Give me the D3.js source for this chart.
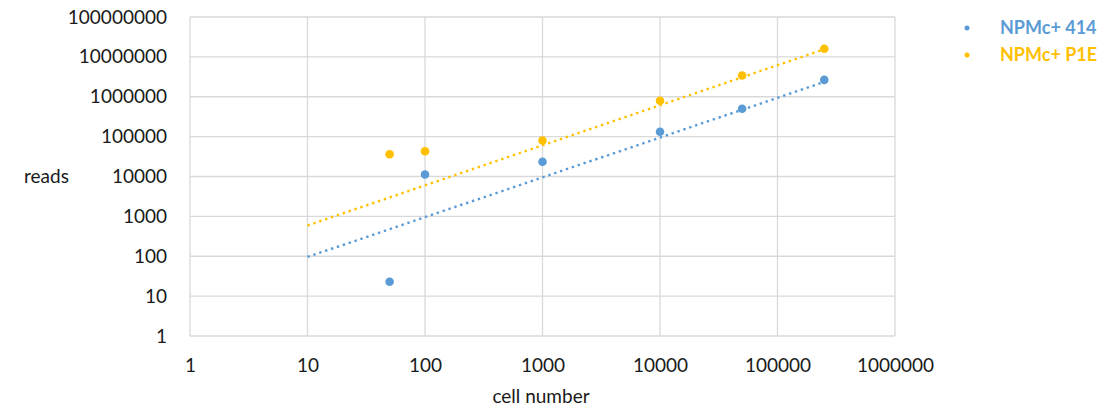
<!DOCTYPE html>
<html><head><meta charset="utf-8">
<script src="https://cdn.jsdelivr.net/npm/d3@7"></script>
<style>body{margin:0;background:#fff}svg{display:block}text{font-family:Lato,"Open Sans",sans-serif}</style>
</head><body>
<svg id="c" width="1115" height="407"></svg>
<script>
const cellNumbers = [50, 100, 1000, 10000, 50000, 250000];
const reads414 = [23, 11200, 23500, 132000, 500000, 2650000];
const readsP1E = [36000, 43000, 80000, 790000, 3400000, 16000000];
const seriesNames = ["NPMc+ 414", "NPMc+ P1E"];
const seriesColors = ["#5B9BD5", "#FFC000"];
// trendline endpoints
const trendX = [10, 250000];
const trend414 = [96, 2350000];
const trendP1E = [590, 15500000];
const xTicks = [1, 10, 100, 1000, 10000, 100000, 1000000];
const yTicks = [1, 10, 100, 1000, 10000, 100000, 1000000, 10000000, 100000000];

const svg = d3.select("#c");
const x = d3.scaleLog().domain([1, 1000000]).range([190, 895]);
const y = d3.scaleLog().domain([1, 100000000]).range([336, 17]);
const grid = "#d9d9d9";

const g = svg.append("g");
g.selectAll("line.h").data(yTicks).join("line")
  .attr("x1", 190).attr("x2", 895).attr("y1", d => y(d)).attr("y2", d => y(d))
  .attr("stroke", grid).attr("stroke-width", 1.3);
g.selectAll("line.v").data(xTicks).join("line")
  .attr("y1", 17).attr("y2", 336).attr("x1", d => x(d)).attr("x2", d => x(d))
  .attr("stroke", grid).attr("stroke-width", 1.3);

const yAxis = svg.append("g").attr("transform", "translate(190,0)")
  .call(d3.axisLeft(y).tickValues(yTicks).tickFormat(d3.format("d")).tickSize(0).tickPadding(23));
const xAxis = svg.append("g").attr("transform", "translate(0,336)")
  .call(d3.axisBottom(x).tickValues(xTicks).tickFormat(d3.format("d")).tickSize(0).tickPadding(23));
[yAxis, xAxis].forEach(a => {
  a.select(".domain").remove();
  a.selectAll("text").attr("font-family", "Lato, sans-serif").attr("font-size", 19).attr("fill", "#1a1a1a");
});

svg.append("text").attr("x", 541).attr("y", 403).attr("text-anchor", "middle")
  .attr("font-size", 19).attr("fill", "#1a1a1a").text("cell number");
svg.append("text").attr("x", 24).attr("y", 183)
  .attr("font-size", 19).attr("fill", "#1a1a1a").text("reads");

const trends = [trend414, trendP1E];
const series = [reads414, readsP1E];
const line = d3.line().x(d => x(d[0])).y(d => y(d[1]));
trends.forEach((t, i) => {
  svg.append("path").attr("d", line(trendX.map((v, j) => [v, t[j]])))
    .attr("fill", "none").attr("stroke", seriesColors[i]).attr("stroke-width", 2.4)
    .attr("stroke-dasharray", "2.4,3.8");
});
series.forEach((s, i) => {
  svg.append("g").selectAll("circle").data(s).join("circle")
    .attr("cx", (d, j) => x(cellNumbers[j])).attr("cy", d => y(d))
    .attr("r", 4.3).attr("fill", seriesColors[i]);
});

const leg = svg.append("g");
seriesNames.forEach((n, i) => {
  leg.append("circle").attr("cx", 967).attr("cy", 28 + i * 27).attr("r", 2.5).attr("fill", seriesColors[i]);
  leg.append("text").attr("x", 1000).attr("y", 28 + i * 27).attr("dy", "0.35em")
    .attr("font-size", 18).attr("font-weight", "bold").attr("fill", seriesColors[i]).text(n);
});
</script>
</body></html>
